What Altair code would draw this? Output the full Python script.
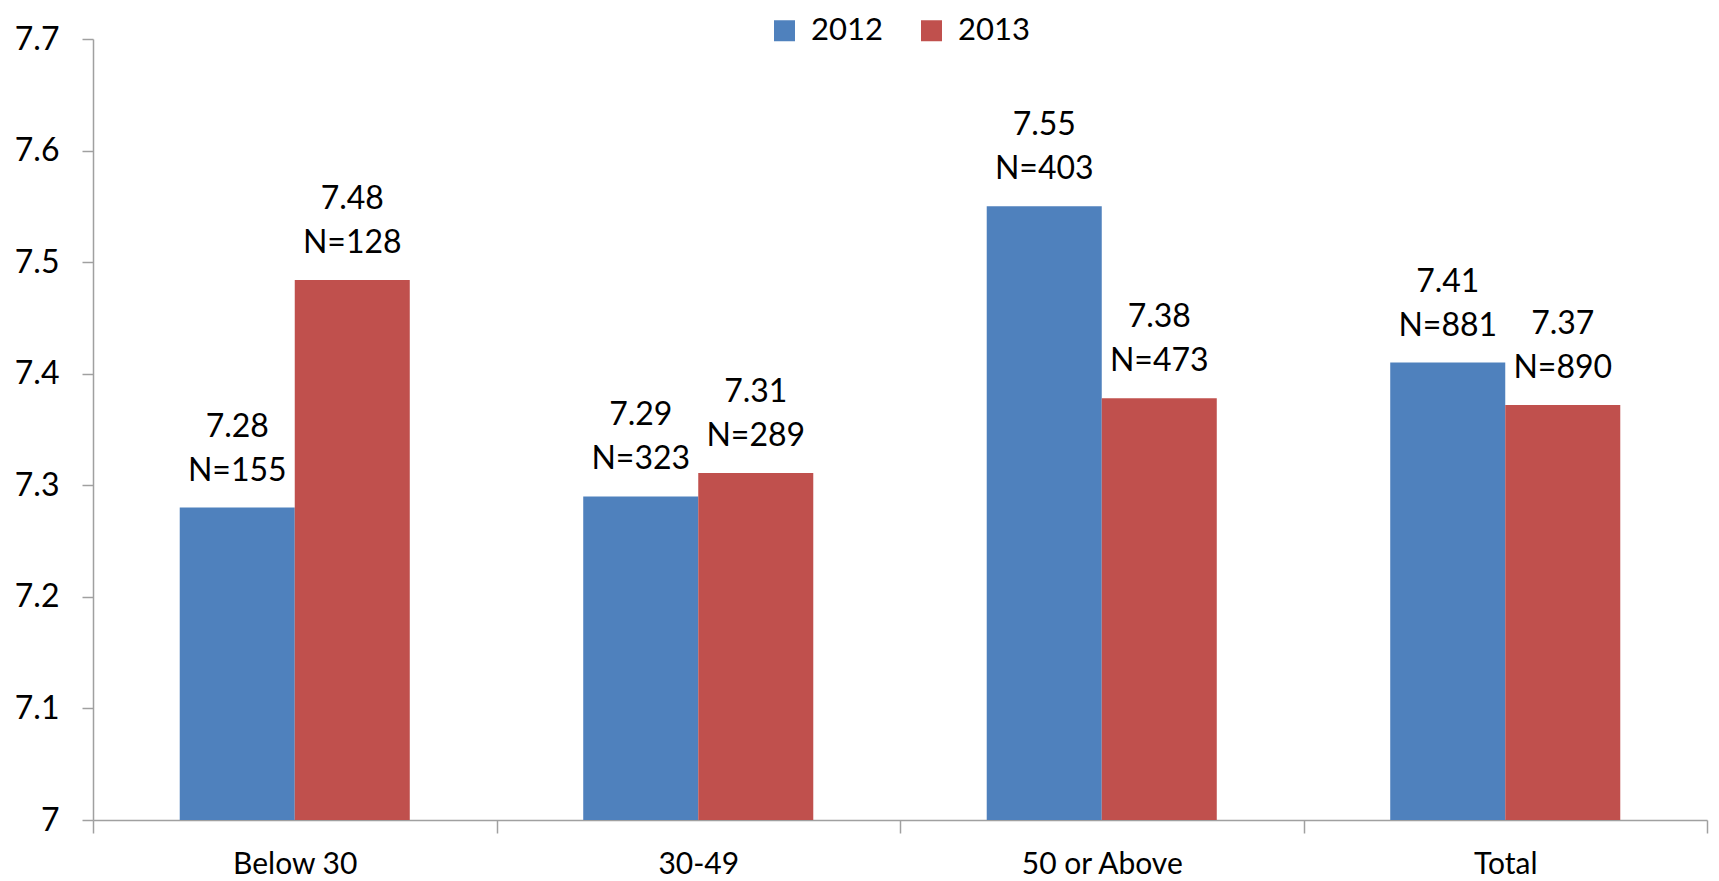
import altair as alt
import pandas as pd

categories = ["Below 30", "30-49", "50 or Above", "Total"]
years = ["2012", "2013"]
values_2012 = [7.28, 7.29, 7.55, 7.41]
values_2013 = [7.484, 7.311, 7.378, 7.372]
n_2012 = [155, 323, 403, 881]
n_2013 = [128, 289, 473, 890]
y_ticks = [7.0, 7.1, 7.2, 7.3, 7.4, 7.5, 7.6, 7.7]
colors = ["#4F81BD", "#C0504D"]

rows = []
for i, c in enumerate(categories):
    rows.append({"cat": c, "year": years[0], "value": values_2012[i], "n": n_2012[i]})
    rows.append({"cat": c, "year": years[1], "value": values_2013[i], "n": n_2013[i]})
df = pd.DataFrame(rows)
df["label"] = [f"{v:.2f}\nN={n}" for v, n in zip(df["value"], df["n"])]

FONT = "Lato"
AXC = "#A0A0A0"

x_enc = alt.X(
    "cat:N",
    sort=categories,
    scale=alt.Scale(paddingInner=0, paddingOuter=0),
    axis=alt.Axis(
        title=None, labelAngle=0, tickBand="extent", tickSize=13,
        labelPadding=16, labelFontSize=30,
    ),
)
xo_enc = alt.XOffset("year:N", sort=years, scale=alt.Scale(paddingInner=0, paddingOuter=0.754))
y_enc = alt.Y(
    "value:Q",
    scale=alt.Scale(domain=[7.0, 7.7], nice=False, zero=False),
    axis=alt.Axis(
        title=None, values=y_ticks, format=".1~f", grid=False, tickSize=11,
        labelPadding=23, labelFontSize=32,
    ),
)

base = alt.Chart(df)

bars = base.mark_bar(stroke=None).encode(
    x=x_enc,
    xOffset=xo_enc,
    y=y_enc,
    y2=alt.datum(7.0),
    color=alt.Color(
        "year:N",
        sort=years,
        scale=alt.Scale(domain=years, range=colors),
        legend=alt.Legend(
            title=None, orient="none", legendX=676, legendY=-24,
            direction="horizontal", symbolType="square", symbolSize=441,
            symbolStrokeWidth=0, labelFontSize=31, labelFont=FONT,
            labelOffset=11, columnPadding=33, padding=0, labelColor="black",
        ),
    ),
)

labels = base.mark_text(
    baseline="bottom", dy=-64, lineBreak="\n", lineHeight=44,
    fontSize=32, font=FONT, color="black", align="center",
).encode(
    x=alt.X("cat:N", sort=categories),
    xOffset=alt.XOffset("year:N", sort=years),
    y=alt.Y("value:Q"),
    text="label:N",
)

chart = (
    alt.layer(bars, labels)
    .properties(
        width=1614, height=781,
        autosize=alt.AutoSizeParams(type="none"),
        padding={"left": 85, "top": 31, "right": 4, "bottom": 60},
        background="white",
    )
    .configure_view(stroke=None)
    .configure_axis(
        domainColor=AXC, tickColor=AXC, domainWidth=1.5, tickWidth=1.5,
        labelFont=FONT, labelColor="black",
    )
)

chart.save("out.html", embed_options={"renderer": "svg", "actions": False})
